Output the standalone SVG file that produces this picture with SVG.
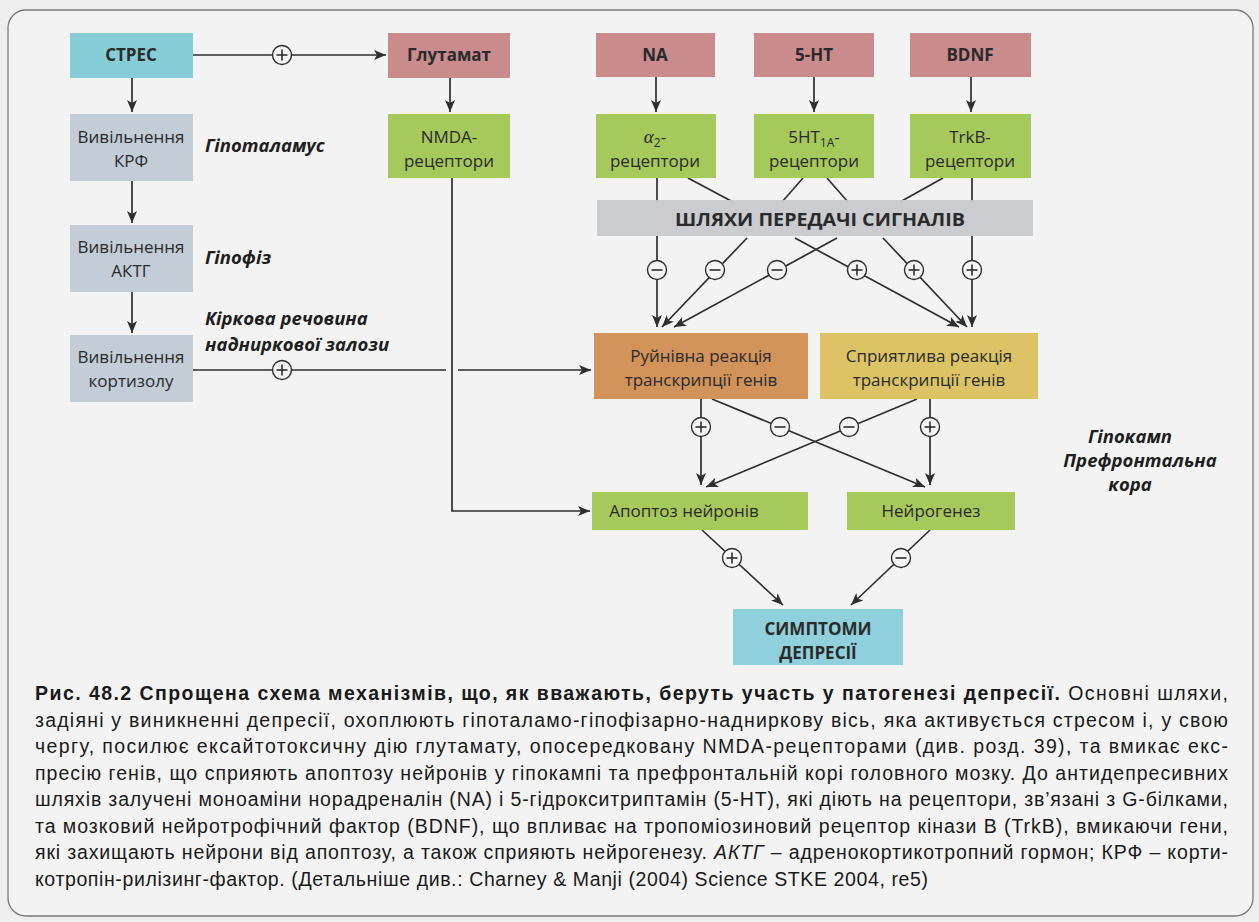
<svg xmlns="http://www.w3.org/2000/svg" width="1259" height="922" viewBox="0 0 1259 922">
<defs>
<style>
.n{font-family:"Open Sans","Liberation Sans",sans-serif;font-size:17px;fill:#2a2a2a;text-anchor:middle}
.b{font-weight:bold}
.lab{font-family:"Open Sans","Liberation Sans",sans-serif;font-size:18.5px;font-weight:bold;font-style:italic;fill:#1e1e1e}
.cap{font-family:"Liberation Sans",Arial,sans-serif;font-size:19.5px;fill:#1a1a1a}
.ln{stroke:#2e2e2e;stroke-width:1.7;fill:none}
.ar{stroke:#2e2e2e;stroke-width:1.7;fill:none;marker-end:url(#ah)}
.sg{fill:#f4f4f4;stroke:#2e2e2e;stroke-width:1.4}
.sy{stroke:#2e2e2e;stroke-width:1.6}
.cyan{fill:#86cdd7}
.pink{fill:#c98b8c}
.green{fill:#a6c95c}
.grey{fill:#c3cdd8}
</style>
<marker id="ah" viewBox="0 0 12 10" refX="12" refY="5" markerWidth="12" markerHeight="10" markerUnits="userSpaceOnUse" orient="auto">
<path d="M0,0 L12,5 L0,10 L3,5 Z" fill="#2e2e2e"/>
</marker>
<g id="plus"><circle r="9.5" class="sg"/><line x1="-5.5" y1="0" x2="5.5" y2="0" class="sy"/><line x1="0" y1="-5.5" x2="0" y2="5.5" class="sy"/></g>
<g id="minus"><circle r="9.5" class="sg"/><line x1="-5.5" y1="0" x2="5.5" y2="0" class="sy"/></g>
</defs>
<rect x="0" y="0" width="1259" height="922" fill="#eeeeee"/>
<rect x="8" y="10" width="1245" height="906" rx="18" fill="#f3f3f3" stroke="#7a7a7a" stroke-width="1.3"/>

<g id="connectors">
<line x1="193" y1="55" x2="386" y2="55" class="ar"/>
<line x1="132" y1="78" x2="132" y2="112" class="ar"/>
<line x1="132" y1="181" x2="132" y2="223" class="ar"/>
<line x1="132" y1="292" x2="132" y2="333" class="ar"/>
<line x1="450" y1="78" x2="450" y2="112" class="ar"/>
<line x1="656" y1="77" x2="656" y2="112" class="ar"/>
<line x1="814" y1="77" x2="814" y2="112" class="ar"/>
<line x1="971" y1="77" x2="971" y2="112" class="ar"/>
<polyline points="452,178 452,511 590,511" class="ar"/>
<line x1="193" y1="370" x2="446" y2="370" class="ln"/>
<line x1="458" y1="370" x2="591" y2="370" class="ar"/>
<line x1="657" y1="178" x2="657" y2="202" class="ln"/>
<line x1="688" y1="178" x2="733" y2="202" class="ln"/>
<line x1="803" y1="178" x2="782" y2="202" class="ln"/>
<line x1="827" y1="178" x2="848" y2="202" class="ln"/>
<line x1="943" y1="178" x2="900" y2="202" class="ln"/>
<line x1="972" y1="178" x2="972" y2="202" class="ln"/>
<line x1="657" y1="236" x2="657" y2="327" class="ar"/>
<line x1="747" y1="238" x2="662" y2="327" class="ar"/>
<line x1="837" y1="238" x2="674" y2="327" class="ar"/>
<line x1="795" y1="238" x2="959" y2="327" class="ar"/>
<line x1="883" y1="238" x2="967" y2="327" class="ar"/>
<line x1="972" y1="236" x2="972" y2="327" class="ar"/>
<line x1="701" y1="399" x2="701" y2="485" class="ar"/>
<line x1="712" y1="399" x2="925" y2="487" class="ar"/>
<line x1="917" y1="399" x2="706" y2="487" class="ar"/>
<line x1="930" y1="399" x2="930" y2="485" class="ar"/>
<line x1="702" y1="530" x2="783" y2="605" class="ar"/>
<line x1="930" y1="530" x2="851" y2="605" class="ar"/>
<use href="#plus" x="282" y="55"/>
<use href="#plus" x="282" y="370"/>
<use href="#minus" x="657" y="270"/>
<use href="#minus" x="715" y="270"/>
<use href="#minus" x="777" y="270"/>
<use href="#plus" x="857" y="270"/>
<use href="#plus" x="914" y="270"/>
<use href="#plus" x="972" y="270"/>
<use href="#plus" x="701" y="427"/>
<use href="#minus" x="780" y="427"/>
<use href="#minus" x="849" y="427"/>
<use href="#plus" x="930" y="427"/>
<use href="#plus" x="732" y="558"/>
<use href="#minus" x="901" y="558"/>
</g>

<g id="stress"><rect x="70" y="33" width="123" height="45" class="cyan"/><text x="131" y="61" class="n b">СТРЕС</text></g>
<g id="krf"><rect x="70" y="114" width="123" height="67" class="grey"/><text x="131" y="143" class="n">Вивільнення</text><text x="131" y="167" class="n">КРФ</text></g>
<g id="aktg"><rect x="70" y="225" width="123" height="67" class="grey"/><text x="131" y="253" class="n">Вивільнення</text><text x="131" y="277" class="n">АКТГ</text></g>
<g id="cortisol"><rect x="70" y="335" width="123" height="67" class="grey"/><text x="131" y="363" class="n">Вивільнення</text><text x="131" y="387" class="n">кортизолу</text></g>
<g id="labels">
<text x="205" y="152" class="lab">Гіпоталамус</text>
<text x="205" y="264" class="lab">Гіпофіз</text>
<text x="205" y="325" class="lab">Кіркова речовина</text>
<text x="205" y="351" class="lab">надниркової залози</text>
<text x="1130" y="443" class="lab" text-anchor="middle">Гіпокамп</text>
<text x="1140" y="467" class="lab" text-anchor="middle">Префронтальна</text>
<text x="1130" y="491" class="lab" text-anchor="middle">кора</text>
</g>
<g id="glutamat"><rect x="388" y="33" width="122" height="45" class="pink"/><text x="449" y="61" class="n b">Глутамат</text></g>
<g id="nmda"><rect x="388" y="114" width="122" height="64" class="green"/><text x="449" y="143" class="n">NMDA-</text><text x="449" y="167" class="n">рецептори</text></g>
<g id="na"><rect x="596" y="33" width="119" height="44" class="pink"/><text x="655" y="61" class="n b">NA</text></g>
<g id="ht"><rect x="754" y="33" width="120" height="44" class="pink"/><text x="814" y="61" class="n b">5-HT</text></g>
<g id="bdnf"><rect x="910" y="33" width="121" height="44" class="pink"/><text x="970" y="61" class="n b">BDNF</text></g>
<g id="alpha2"><rect x="596" y="114" width="120" height="64" class="green"/><text x="655" y="143" class="n"><tspan font-family="Liberation Serif,serif" font-style="italic" font-size="19">α</tspan><tspan font-size="12" dy="4">2</tspan><tspan dy="-4">-</tspan></text><text x="655" y="167" class="n">рецептори</text></g>
<g id="ht1a"><rect x="754" y="114" width="120" height="64" class="green"/><text x="814" y="143" class="n">5HT<tspan font-size="12" dy="4">1A</tspan><tspan dy="-4">-</tspan></text><text x="814" y="167" class="n">рецептори</text></g>
<g id="trkb"><rect x="910" y="114" width="121" height="64" class="green"/><text x="970" y="143" class="n">TrkB-</text><text x="970" y="167" class="n">рецептори</text></g>
<g id="signal"><rect x="597" y="200" width="436" height="36" fill="#c8c9cd" fill-opacity="0.95"/><text x="820" y="226" class="n b" font-size="20" textLength="290" lengthAdjust="spacingAndGlyphs">ШЛЯХИ ПЕРЕДАЧІ СИГНАЛІВ</text></g>
<g id="ruin"><rect x="594" y="333" width="214" height="66" fill="#d2935a"/><text x="701" y="362" class="n">Руйнівна реакція</text><text x="701" y="386" class="n">транскрипції генів</text></g>
<g id="spry"><rect x="820" y="333" width="218" height="66" fill="#dcc466"/><text x="929" y="362" class="n">Сприятлива реакція</text><text x="929" y="386" class="n">транскрипції генів</text></g>
<g id="apoptoz"><rect x="592" y="492" width="216" height="38" class="green"/><text x="684" y="517" class="n">Апоптоз нейронів</text></g>
<g id="neuro"><rect x="847" y="492" width="168" height="38" class="green"/><text x="931" y="517" class="n">Нейрогенез</text></g>
<g id="symptoms"><rect x="733" y="609" width="170" height="56" fill="#8fd0dc"/><text x="818" y="635" class="n b">СИМПТОМИ</text><text x="818" y="659" class="n b">ДЕПРЕСІЇ</text></g>

<g id="caption">
<text x="35" y="700" class="cap" textLength="1193" lengthAdjust="spacing"><tspan font-weight="900">Рис. 48.2</tspan><tspan font-weight="bold"> Спрощена схема механізмів, що, як вважають, беруть участь у патогенезі депресії.</tspan> Основні шляхи,</text>
<text x="35" y="726.5" class="cap" textLength="1193" lengthAdjust="spacing">задіяні у виникненні депресії, охоплюють гіпоталамо-гіпофізарно-надниркову вісь, яка активується стресом і, у свою</text>
<text x="35" y="753" class="cap" textLength="1193" lengthAdjust="spacing">чергу, посилює ексайтотоксичну дію глутамату, опосередковану NMDA-рецепторами (див. розд. 39), та вмикає екс-</text>
<text x="35" y="779.5" class="cap" textLength="1193" lengthAdjust="spacing">пресію генів, що сприяють апоптозу нейронів у гіпокампі та префронтальній корі головного мозку. До антидепресивних</text>
<text x="35" y="806" class="cap" textLength="1193" lengthAdjust="spacing">шляхів залучені моноаміни норадреналін (NA) і 5-гідрокситриптамін (5-HT), які діють на рецептори, зв’язані з G-білками,</text>
<text x="35" y="832.5" class="cap" textLength="1193" lengthAdjust="spacing">та мозковий нейротрофічний фактор (BDNF), що впливає на тропоміозиновий рецептор кінази В (TrkB), вмикаючи гени,</text>
<text x="35" y="859" class="cap" textLength="1193" lengthAdjust="spacing">які захищають нейрони від апоптозу, а також сприяють нейрогенезу. <tspan font-style="italic">АКТГ</tspan> – адренокортикотропний гормон; КРФ – корти-</text>
<text x="35" y="885.5" class="cap" textLength="893" lengthAdjust="spacing">котропін-рилізинг-фактор. (Детальніше див.: Charney &amp; Manji (2004) Science STKE 2004, re5)</text>
</g>
</svg>
